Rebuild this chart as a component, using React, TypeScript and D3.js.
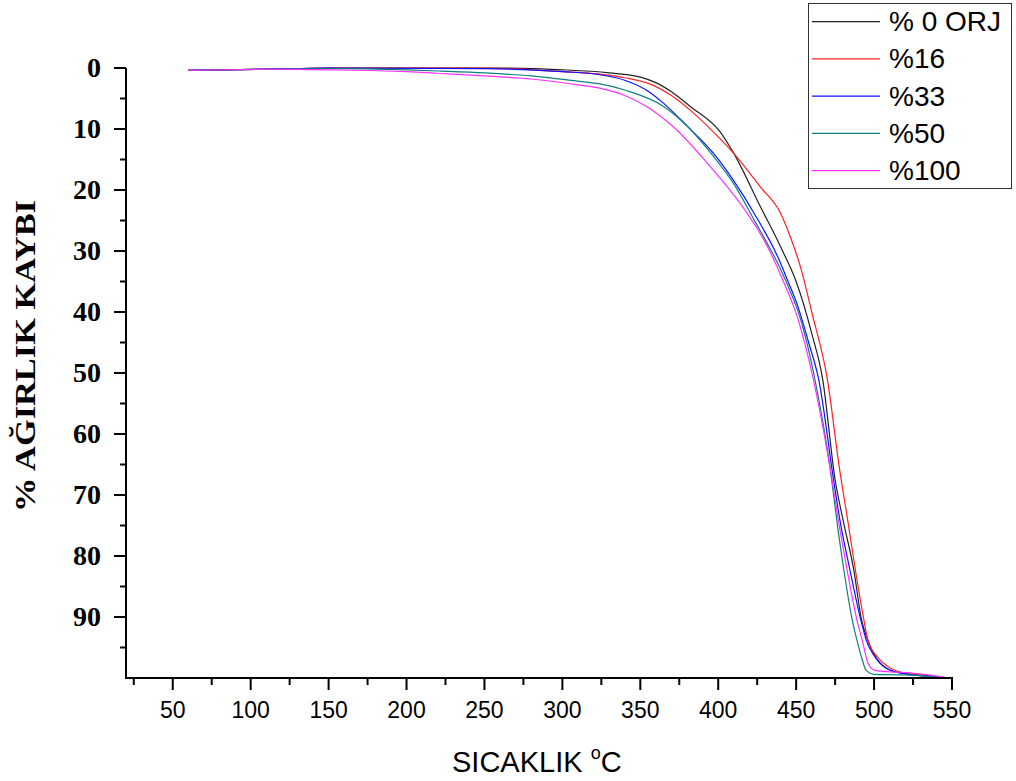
import React, { useRef, useEffect } from 'react';
import * as d3 from 'd3';

// [temperature °C, % weight loss]
const orj: [number, number][] = [
  [60, 0.4], [110, 0.2], [150, 0], [250, 0], [300, 0.3], [330, 0.8], [350, 1.5], [360, 2.4],
  [370, 3.9], [382, 6.3], [401, 10.4], [410, 14], [427, 22.7], [440, 29.3], [450, 35],
  [460, 43.5], [467, 51], [475, 67.5], [480, 74], [487, 82.3], [492, 90.5], [496, 93.8],
  [502, 97], [510, 98.7], [520, 99.3], [535, 99.7], [548, 100],
];
const p16: [number, number][] = [
  [60, 0.4], [110, 0.2], [150, 0], [250, 0], [300, 0.6], [324, 1.0], [340, 1.6], [358, 2.8],
  [370, 4.5], [382, 6.9], [397, 10.5], [410, 14], [427, 19.5], [440, 23.8], [446, 27.5],
  [453, 32.8], [460, 40], [470, 51], [478, 66], [483, 74], [488, 82.3], [493.5, 90.5],
  [496, 93.8], [502, 96.5], [510, 98.3], [520, 99.2], [535, 99.6], [548, 100],
];
const p33: [number, number][] = [
  [60, 0.4], [110, 0.2], [150, 0], [250, 0.1], [300, 0.6], [324, 1.1], [340, 2.0], [355, 3.8],
  [365, 5.8], [380, 9.5], [397, 14], [410, 18.5], [423, 23.8], [440, 32], [444, 34.5],
  [451, 39], [458, 45], [464.5, 51.1], [474, 67.5], [478, 74], [484.5, 82.3], [491.5, 90.5],
  [495, 93.8], [502, 97], [510, 98.7], [520, 99.3], [535, 99.7], [548, 100],
];
const p50: [number, number][] = [
  [60, 0.4], [110, 0.2], [150, 0.1], [200, 0.3], [222, 0.5], [250, 0.8], [280, 1.3], [311, 2.2],
  [324, 2.6], [340, 3.6], [365, 6.3], [380, 9.5], [397, 14.5], [410, 19], [423, 24.9],
  [440, 33], [446, 36.5], [452, 40.5], [462, 51], [472, 66], [476, 74], [480.6, 82.3],
  [486, 90.5], [489, 93.8], [492.4, 97], [495, 98.8], [500, 99.4], [520, 99.5], [548, 100],
];
const p100: [number, number][] = [
  [60, 0.4], [110, 0.2], [150, 0.3], [200, 0.6], [222, 0.9], [250, 1.3], [280, 1.8], [311, 2.8],
  [324, 3.3], [340, 4.5], [354, 6.3], [371, 9.6], [393, 15.6], [418.5, 23.8], [430, 28.5],
  [441, 34.5], [451, 41], [461, 51], [473, 67.5], [477, 74], [482.7, 82.3], [489, 90.5],
  [492.4, 93.8], [496, 97.5], [500, 98.7], [510, 99], [520, 99.1], [535, 99.5], [548, 100],
];

const seriesNames = ['% 0 ORJ', '%16', '%33', '%50', '%100'];
const seriesData = [orj, p16, p33, p50, p100];
const seriesColors = ['#222222', '#ff2020', '#1010ff', '#108080', '#ff30ff'];

const xMajor = [50, 100, 150, 200, 250, 300, 350, 400, 450, 500, 550];
const xMinor = [25, 75, 125, 175, 225, 275, 325, 375, 425, 475, 525];
const yMajor = [0, 10, 20, 30, 40, 50, 60, 70, 80, 90];
const yMinor = [5, 15, 25, 35, 45, 55, 65, 75, 85, 95];

const App = () => {
  const svgRef = useRef<SVGSVGElement>(null);

  useEffect(() => {
    const svg = d3.select(svgRef.current);
    svg.selectAll('*').remove();

    const x = d3.scaleLinear().domain([20, 550]).range([126, 952]);
    const y = d3.scaleLinear().domain([0, 100]).range([68, 678]);

    svg.append('rect').attr('width', 1016).attr('height', 781).attr('fill', '#fff');

    // lines
    const line = d3.line<[number, number]>()
      .x((d) => x(d[0]))
      .y((d) => y(d[1]))
      .curve(d3.curveMonotoneX);

    seriesData.forEach((s, i) => {
      svg.append('path')
        .datum(s)
        .attr('fill', 'none')
        .attr('stroke', seriesColors[i])
        .attr('stroke-width', 1.2)
        .attr('d', line);
    });

    // y axis
    const yAxis = svg.append('g');
    yAxis.append('line')
      .attr('x1', x(20)).attr('x2', x(20))
      .attr('y1', y(0)).attr('y2', y(100))
      .attr('stroke', '#000').attr('stroke-width', 2);
    yMajor.forEach((v) => {
      yAxis.append('line')
        .attr('x1', x(20) - 12).attr('x2', x(20))
        .attr('y1', y(v)).attr('y2', y(v))
        .attr('stroke', '#000').attr('stroke-width', 2);
      yAxis.append('text')
        .attr('x', 101).attr('y', y(v) + 9)
        .attr('text-anchor', 'end')
        .attr('font-family', '"Liberation Serif", "Times New Roman", serif')
        .attr('font-weight', 'bold')
        .attr('font-size', 28)
        .text(v);
    });
    yMinor.forEach((v) => {
      yAxis.append('line')
        .attr('x1', x(20) - 6).attr('x2', x(20))
        .attr('y1', y(v)).attr('y2', y(v))
        .attr('stroke', '#000').attr('stroke-width', 2);
    });

    // x axis
    const xAxis = svg.append('g');
    xAxis.append('line')
      .attr('x1', x(20) - 1).attr('x2', x(550) + 1)
      .attr('y1', y(100)).attr('y2', y(100))
      .attr('stroke', '#000').attr('stroke-width', 2);
    xMajor.forEach((v) => {
      xAxis.append('line')
        .attr('x1', x(v)).attr('x2', x(v))
        .attr('y1', y(100)).attr('y2', y(100) + 12)
        .attr('stroke', '#000').attr('stroke-width', 2);
      xAxis.append('text')
        .attr('x', x(v)).attr('y', 718)
        .attr('text-anchor', 'middle')
        .attr('font-family', '"Liberation Sans", Arial, sans-serif')
        .attr('font-size', 23)
        .text(v);
    });
    xMinor.forEach((v) => {
      xAxis.append('line')
        .attr('x1', x(v)).attr('x2', x(v))
        .attr('y1', y(100)).attr('y2', y(100) + 7)
        .attr('stroke', '#000').attr('stroke-width', 2);
    });

    // axis titles
    const xTitle = svg.append('text')
      .attr('x', 452).attr('y', 772)
      .attr('font-family', '"Liberation Sans", Arial, sans-serif')
      .attr('font-size', 29);
    xTitle.append('tspan').text('SICAKLIK ');
    xTitle.append('tspan').attr('font-size', 18).attr('dy', -13).text('o');
    xTitle.append('tspan').attr('dy', 13).text('C');

    svg.append('text')
      .attr('transform', 'translate(35,356) rotate(-90)')
      .attr('text-anchor', 'middle')
      .attr('font-family', '"Liberation Serif", "Times New Roman", serif')
      .attr('font-weight', 'bold')
      .attr('font-size', 30)
      .attr('textLength', 312)
      .attr('lengthAdjust', 'spacingAndGlyphs')
      .text('% AĞIRLIK KAYBI');

    // legend
    const legend = svg.append('g');
    legend.append('rect')
      .attr('x', 808.5).attr('y', 3.5).attr('width', 203).attr('height', 185)
      .attr('fill', '#fff').attr('stroke', '#333').attr('stroke-width', 1);
    seriesNames.forEach((name, i) => {
      const ly = 21.7 + i * 37.25;
      legend.append('line')
        .attr('x1', 812).attr('x2', 880)
        .attr('y1', ly).attr('y2', ly)
        .attr('stroke', seriesColors[i]).attr('stroke-width', 1.2);
      legend.append('text')
        .attr('x', 889).attr('y', ly + 9.5)
        .attr('font-family', '"Liberation Sans", Arial, sans-serif')
        .attr('font-size', 28)
        .text(name);
    });
  }, []);

  return (
    <svg
      ref={svgRef}
      width={1016}
      height={781}
      style={{ position: 'absolute', left: 0, top: 0 }}
    ></svg>
  );
};

export default App;
